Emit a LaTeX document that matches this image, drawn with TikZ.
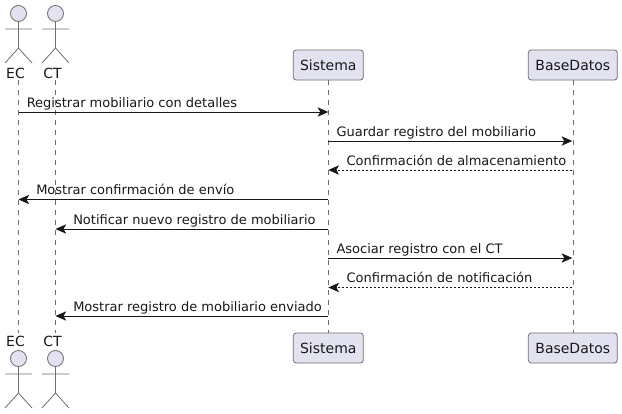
\documentclass[tikz,border=0pt]{standalone}
\usepackage{fontspec}
\setmainfont{DejaVu Sans}
\usetikzlibrary{arrows.meta}
\definecolor{ink}{HTML}{181818}
\definecolor{soft}{HTML}{6E6E6E}
\definecolor{boxfill}{HTML}{E2E2F0}
\tikzset{
  x=0.75pt,y=-0.75pt,
  participant/.style={draw=soft,line width=0.6pt,fill=boxfill,rounded corners=2.2pt,minimum height=22.5pt,inner sep=0pt,font=\fontsize{10.5pt}{12pt}\selectfont,text=ink},
  actorname/.style={inner sep=0pt,font=\fontsize{10.5pt}{12pt}\selectfont,text=ink},
  head/.style={circle,draw=soft,line width=0.6pt,fill=boxfill,minimum size=12pt,inner sep=0pt},
  limb/.style={draw=soft,line width=0.6pt},
  lifeline/.style={draw=soft,line width=0.45pt,dash pattern=on 3.75pt off 3.75pt},
  msg/.style={draw=ink,line width=0.75pt,-{Stealth[length=8pt,width=7pt,inset=2pt]}},
  reply/.style={msg,dash pattern=on 1.5pt off 1.5pt},
  msglabel/.style={anchor=base west,inner sep=0pt,font=\fontsize{9.75pt}{12pt}\selectfont,text=ink},
}
\newcommand{\stickman}[3]{%
  \node[head] (#1h) at (#2,#3) {};
  \coordinate (#1n) at (#2,#3+34.5);
  \coordinate (#1l) at (#2-13.5,#3+15.5);
  \coordinate (#1r) at (#2+13.5,#3+15.5);
  \coordinate (#1f) at (#2-13.5,#3+49.5);
  \coordinate (#1g) at (#2+13.5,#3+49.5);
  \path[limb] (#1h) -- (#1n) (#1l) -- (#1r) (#1n) -- (#1f) (#1n) -- (#1g);
}
\begin{document}
\begin{tikzpicture}
\useasboundingbox (0,0) rectangle (622,414);
% top and bottom participants
\node[actorname] (ect) at (15.5,73) {EC};
\node[actorname] (ctt) at (52.5,73) {CT};
\node[actorname] (ecb) at (15.5,341) {EC};
\node[actorname] (ctb) at (52.5,341) {CT};
\coordinate (ecs) at (18.5,80);
\coordinate (ecz) at (18.5,333);
\coordinate (cts) at (55.5,80);
\coordinate (ctz) at (55.5,333);
\node[participant,minimum width=52.5pt] (sist) at (328.3,65) {Sistema};
\node[participant,minimum width=66.75pt] (bdt) at (572.8,65) {BaseDatos};
\node[participant,minimum width=52.5pt] (sisb) at (328.3,348) {Sistema};
\node[participant,minimum width=66.75pt] (bdb) at (572.8,348) {BaseDatos};
% lifelines
\draw[lifeline] (ecs) -- (ecz);
\draw[lifeline] (cts) -- (ctz);
\draw[lifeline] (sist) -- (sisb);
\draw[lifeline] (bdt) -- (bdb);
% actors
\stickman{a}{18.5}{13.5}
\stickman{b}{55.5}{13.5}
\stickman{c}{18.5}{358.5}
\stickman{d}{55.5}{358.5}
% endpoints
\foreach \n/\y in {1/112,2/141,3/170,4/199.5,5/229,6/258,7/287.5,8/316}{
  \coordinate (e\n) at (18.5,\y);
  \coordinate (c\n) at (55.5,\y);
  \coordinate (s\n) at (328.3,\y);
  \coordinate (b\n) at (572.3,\y);
}
% messages
\draw[msg] (e1) -- (s1);
\draw[msg] (s2) -- (b2);
\draw[reply] (b3) -- (s3);
\draw[msg] (s4) -- (e4);
\draw[msg] (s5) -- (c5);
\draw[msg] (s6) -- (b6);
\draw[reply] (b7) -- (s7);
\draw[msg] (s8) -- (c8);
% labels
\node[msglabel] (t1) at (26.5,107) {Registrar mobiliario con detalles};
\node[msglabel] (t2) at (336.3,136) {Guardar registro del mobiliario};
\node[msglabel] (t3) at (346.3,165) {Confirmación de almacenamiento};
\node[msglabel] (t4) at (36,194.5) {Mostrar confirmación de envío};
\node[msglabel] (t5) at (73,224) {Notificar nuevo registro de mobiliario};
\node[msglabel] (t6) at (336.3,253) {Asociar registro con el CT};
\node[msglabel] (t7) at (346.3,282.5) {Confirmación de notificación};
\node[msglabel] (t8) at (73,311) {Mostrar registro de mobiliario enviado};
\end{tikzpicture}
\end{document}
